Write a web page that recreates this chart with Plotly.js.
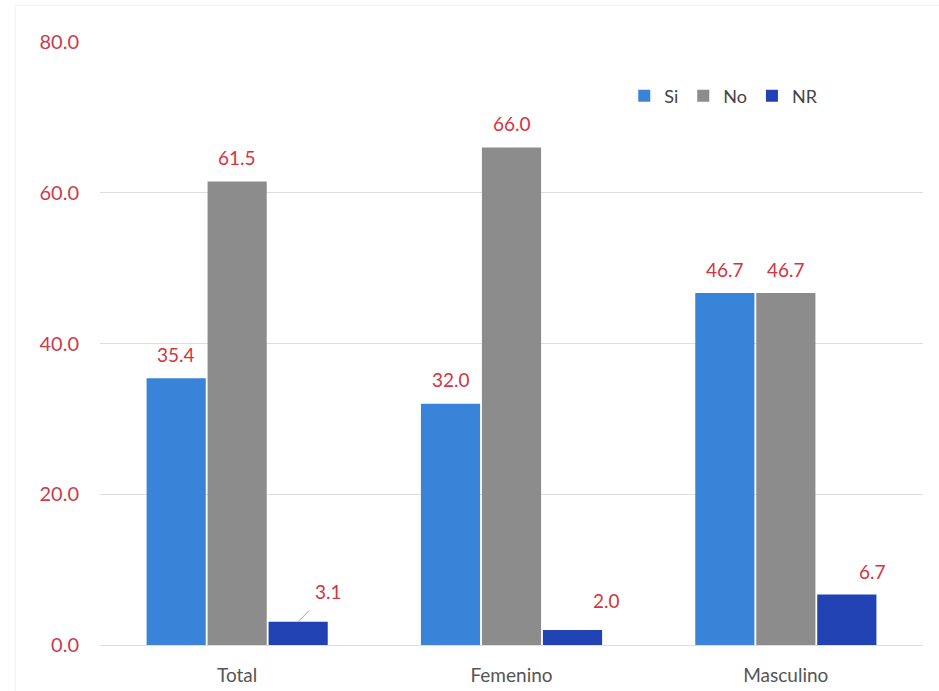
<!DOCTYPE html>
<html>
<head>
<meta charset="utf-8">
<script src="https://cdn.plot.ly/plotly-3.0.1.min.js"></script>
<style>
  html, body { margin: 0; padding: 0; background: #ffffff; }
  #chart { width: 939px; height: 691px; }
</style>
</head>
<body>
<div id="chart"></div>
<script>
// Categories and series values (percent)
const categories = ['Total', 'Femenino', 'Masculino'];
const seriesNames = ['Si', 'No', 'NR'];
const siValues = [35.4, 32.0, 46.7];
const noValues = [61.5, 66.0, 46.7];
const nrValues = [3.1, 2.0, 6.7];
const yTickValues = [0, 20, 40, 60, 80];
const yTickLabels = ['0.0', '20.0', '40.0', '60.0', '80.0'];

// Styling
const seriesColors = ['#3983d8', '#8c8c8c', '#2142b3'];
const labelColor = '#d4343f';
const font = 'Lato, "Open Sans", sans-serif';
const bargap = 0.333;
const nSeries = 3;
const barSlot = (1 - bargap) / nSeries;

const allValues = [siValues, noValues, nrValues];

const traces = allValues.map((vals, j) => ({
  type: 'bar',
  name: seriesNames[j],
  x: categories,
  y: vals,
  marker: { color: seriesColors[j], line: { width: 0 } },
  hoverinfo: 'skip'
}));

// Value labels: the small NR bars get their label nudged to the right
const nrLabelNudge = [
  { dx: 30, dy: -30, leader: true },
  { dx: 34, dy: -29, leader: false },
  { dx: 26, dy: -23, leader: false }
];

const annotations = [];
allValues.forEach((vals, j) => {
  vals.forEach((v, i) => {
    const xPos = i + (j - (nSeries - 1) / 2) * barSlot;
    const base = {
      xref: 'x', yref: 'y', x: xPos, y: v,
      text: v.toFixed(1),
      font: { family: font, size: 19, color: labelColor },
      xanchor: 'center', yanchor: 'middle'
    };
    if (j === 2) {
      const n = nrLabelNudge[i];
      if (n.leader) {
        annotations.push(Object.assign(base, {
          showarrow: true, arrowhead: 0, arrowwidth: 1, arrowcolor: '#a6a6a6',
          ax: n.dx, ay: n.dy, standoff: 0, startstandoff: 9
        }));
      } else {
        annotations.push(Object.assign(base, {
          showarrow: false, xshift: n.dx, yshift: -n.dy
        }));
      }
    } else {
      annotations.push(Object.assign(base, { showarrow: false, yshift: 24 }));
    }
  });
});

const layout = {
  width: 939,
  height: 691,
  margin: { l: 100, r: 16, t: 42, b: 46 },
  paper_bgcolor: '#ffffff',
  plot_bgcolor: '#ffffff',
  barmode: 'group',
  bargap: bargap,
  bargroupgap: 0.03,
  showlegend: true,
  legend: {
    orientation: 'h',
    x: 0.637, y: 0.941,
    xanchor: 'left', yanchor: 'top',
    bgcolor: 'rgba(0,0,0,0)',
    font: { family: font, size: 18, color: '#444444' },
    itemwidth: 30,
    traceorder: 'normal'
  },
  xaxis: {
    type: 'category',
    showgrid: false,
    zeroline: false,
    showline: false,
    ticks: '',
    ticklabelstandoff: 17,
    tickfont: { family: font, size: 19, color: '#555555' }
  },
  yaxis: {
    range: [0, 80],
    tickvals: yTickValues,
    ticktext: yTickLabels,
    showgrid: true,
    gridcolor: '#dedede',
    gridwidth: 1,
    zeroline: true,
    zerolinecolor: '#dedede',
    showline: false,
    ticks: '',
    ticklabelstandoff: 20,
    tickfont: { family: font, size: 20, color: '#cc3b4c' }
  },
  annotations: annotations,
  shapes: [
    {
      type: 'rect', xref: 'paper', yref: 'paper',
      x0: -0.103, x1: 1.05, y0: -0.2, y1: 1.061,
      line: { color: '#f0f0f0', width: 1 }, layer: 'below'
    }
  ]
};

Plotly.newPlot('chart', traces, layout, { staticPlot: true, displayModeBar: false });
</script>
</body>
</html>
